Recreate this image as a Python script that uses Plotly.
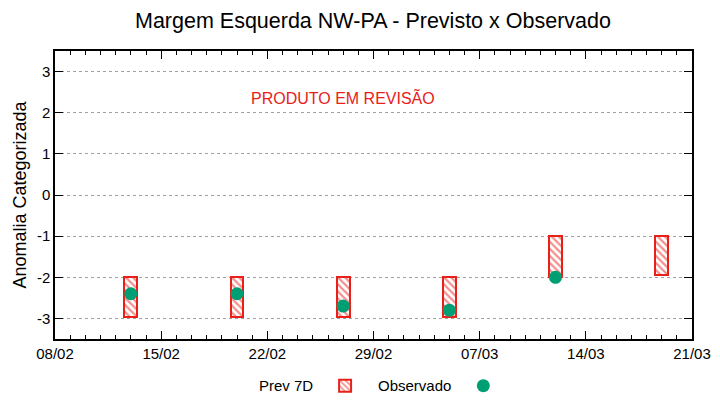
import plotly.graph_objects as go

# Data
dates = ["2024-02-13", "2024-02-20", "2024-02-27", "2024-03-05", "2024-03-12", "2024-03-19"]
prev_low = [-2.96, -2.96, -2.96, -2.96, -2.0, -1.95]
prev_high = [-2.0, -2.0, -2.0, -2.0, -1.0, -1.0]
obs_dates = ["2024-02-13", "2024-02-20", "2024-02-27", "2024-03-05", "2024-03-12"]
obs_values = [-2.4, -2.4, -2.7, -2.8, -2.0]
tick_dates = ["2024-02-08", "2024-02-15", "2024-02-22", "2024-02-29",
              "2024-03-07", "2024-03-14", "2024-03-21"]
tick_labels = ["08/02", "15/02", "22/02", "29/02", "07/03", "14/03", "21/03"]
y_ticks = [-3, -2, -1, 0, 1, 2, 3]
y_labels = ["-3", "-2", "-1", "0", "1", "2", "3"]

RED = "#e8201a"
GREEN = "#009e73"
DAY = 86400000

fig = go.Figure()
fig.add_trace(go.Bar(
    x=dates,
    y=[h - l for h, l in zip(prev_high, prev_low)],
    base=prev_low,
    width=[0.85 * DAY] * len(dates),
    name=" ",
    legend="legend",
    marker=dict(
        color="white",
        line=dict(color=RED, width=2),
        pattern=dict(shape="\\", fgcolor=RED, bgcolor="white", size=5, solidity=0.45),
    ),
))
fig.add_trace(go.Scatter(
    x=obs_dates, y=obs_values, mode="markers", name=" ",
    legend="legend2",
    marker=dict(color=GREEN, size=13),
))

fig.add_annotation(
    text="PRODUTO EM REVISÃO", xref="paper", yref="paper", x=0.452, y=0.837,
    xanchor="center", yanchor="middle",
    showarrow=False, font=dict(color=RED, size=16),
)
fig.add_annotation(
    text="Prev 7D", xref="paper", yref="paper", x=0.408, y=-0.163,
    xanchor="right", yanchor="middle", showarrow=False, font=dict(size=15),
)
fig.add_annotation(
    text="Observado", xref="paper", yref="paper", x=0.625, y=-0.163,
    xanchor="right", yanchor="middle", showarrow=False, font=dict(size=15),
)

fig.update_layout(
    width=720, height=400,
    margin=dict(l=55, r=28, t=51, b=61, autoexpand=False),
    paper_bgcolor="white", plot_bgcolor="white",
    font=dict(family="Liberation Sans, Arial, sans-serif", size=15, color="black"),
    title=dict(text="Margem Esquerda NW-PA - Previsto x Observado", x=0.518, xanchor="center",
               y=0.95, yanchor="middle", font=dict(size=21.5)),
    showlegend=True,
    legend=dict(x=0.424, xanchor="left", y=-0.163, yanchor="middle",
                font=dict(size=15), bgcolor="rgba(0,0,0,0)"),
    legend2=dict(x=0.641, xanchor="left", y=-0.163, yanchor="middle",
                 font=dict(size=15), bgcolor="rgba(0,0,0,0)"),
    bargap=0,
)
fig.update_xaxes(
    type="date", range=["2024-02-08", "2024-03-21"],
    tickvals=tick_dates, ticktext=tick_labels,
    ticks="inside", ticklen=8, tickcolor="black", tickwidth=1,
    showline=True, linecolor="black", linewidth=1.5, mirror="allticks",
    showgrid=False, zeroline=False, automargin=False,
    minor=dict(dtick=DAY, ticks="inside", ticklen=4, tickcolor="black", showgrid=False),
)
fig.update_yaxes(
    range=[-3.5, 3.5], tickvals=y_ticks, ticktext=y_labels,
    ticks="inside", ticklen=8, tickcolor="black",
    showline=True, linecolor="black", linewidth=1.5, mirror="allticks",
    showgrid=True, gridcolor="#a0a0a0", griddash="dot", gridwidth=1,
    zeroline=False, automargin=False,
    title=dict(text="Anomalia Categorizada", standoff=6),
)

fig.write_html("out.html", config={"displayModeBar": False},
               post_script="document.body.style.margin='0';")
